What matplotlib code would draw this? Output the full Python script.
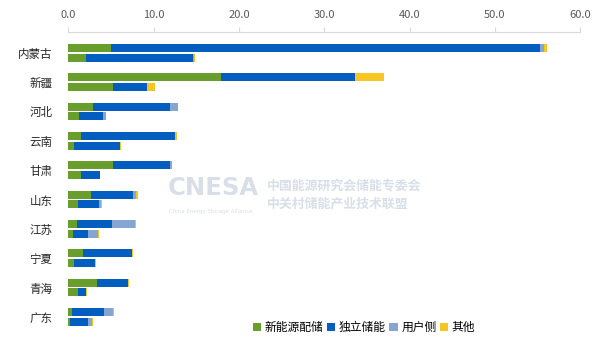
import matplotlib.pyplot as plt
import numpy as np

plt.rcParams['font.family'] = ['Noto Sans CJK SC', 'DejaVu Sans']

provinces = ['内蒙古', '新疆', '河北', '云南', '甘肃', '山东', '江苏', '宁夏', '青海', '广东']
series = ['新能源配储', '独立储能', '用户侧', '其他']
colors = ['#6A9E2C', '#035EC0', '#86A6CF', '#F7C522']

# upper bar of each pair
top_green = [5.0, 17.9, 2.87, 1.5, 5.2, 2.65, 1.03, 1.75, 3.36, 0.4]
top_blue = [50.3, 15.7, 9.0, 11.05, 6.7, 4.88, 4.04, 5.65, 3.68, 3.8]
top_light = [0.5, 0.0, 1.0, 0.0, 0.2, 0.37, 2.69, 0.0, 0.0, 1.0]
top_yellow = [0.3, 3.4, 0.0, 0.15, 0.0, 0.26, 0.18, 0.13, 0.09, 0.14]

# lower bar of each pair
bot_green = [2.06, 5.2, 1.2, 0.67, 1.43, 1.12, 0.54, 0.63, 1.1, 0.18]
bot_blue = [12.55, 4.05, 2.8, 5.43, 2.25, 2.47, 1.7, 2.51, 1.0, 2.11]
bot_light = [0.06, 0.0, 0.45, 0.0, 0.05, 0.18, 1.21, 0.0, 0.0, 0.45]
bot_yellow = [0.2, 0.85, 0.0, 0.1, 0.0, 0.18, 0.14, 0.09, 0.09, 0.13]

fig = plt.figure(figsize=(6, 3.61), dpi=100)
ax = fig.add_axes([0.114, 0.065, 0.853, 0.846])

y = np.arange(len(provinces))
h = 0.265
off = 0.165

for vals, yy in [((top_green, top_blue, top_light, top_yellow), y - off),
                 ((bot_green, bot_blue, bot_light, bot_yellow), y + off)]:
    left = np.zeros(len(provinces))
    for i, v in enumerate(vals):
        v = np.array(v)
        ax.barh(yy, v, left=left, height=h, color=colors[i], edgecolor='none',
                label=series[i] if yy[0] < 0 else None)
        left = left + v

ax.set_xlim(0, 60)
ax.set_ylim(len(provinces) - 1 + 0.705, -0.705)
ax.xaxis.tick_top()
ax.set_xticks(np.arange(0, 61, 10))
ax.set_xticklabels([f'{v:.1f}' for v in np.arange(0, 61, 10)], fontsize=8, color='#595959')
ax.tick_params(axis='x', length=3.5, width=0.8, color='#D9D9D9', pad=5)
ax.set_yticks(y)
ax.set_yticklabels(provinces, fontsize=8.3, color='#262626')
ax.tick_params(axis='y', length=0, pad=11.5)
for s in ['left', 'right', 'bottom']:
    ax.spines[s].set_visible(False)
ax.spines['top'].set_color('#D9D9D9')
ax.spines['top'].set_linewidth(0.8)

# watermark
wm = '#D8DFE9'
fig.text(0.28, 0.46, 'CNESA', fontsize=17.5, fontweight='bold', color=wm, family='DejaVu Sans')
fig.text(0.281, 0.41, 'China Energy Storage Alliance', fontsize=4.0, color=wm, family='DejaVu Sans')
fig.text(0.445, 0.475, '中国能源研究会储能专委会', fontsize=9.3, fontweight='bold', color=wm)
fig.text(0.445, 0.425, '中关村储能产业技术联盟', fontsize=9.3, fontweight='bold', color=wm)

fig.legend(loc='center', bbox_to_anchor=(0.607, 0.092), ncol=4, frameon=False,
           fontsize=8.5, handlelength=0.7, handleheight=0.7, handletextpad=0.3,
           columnspacing=0.3, borderaxespad=0)

fig.savefig('out.png', dpi=100)
